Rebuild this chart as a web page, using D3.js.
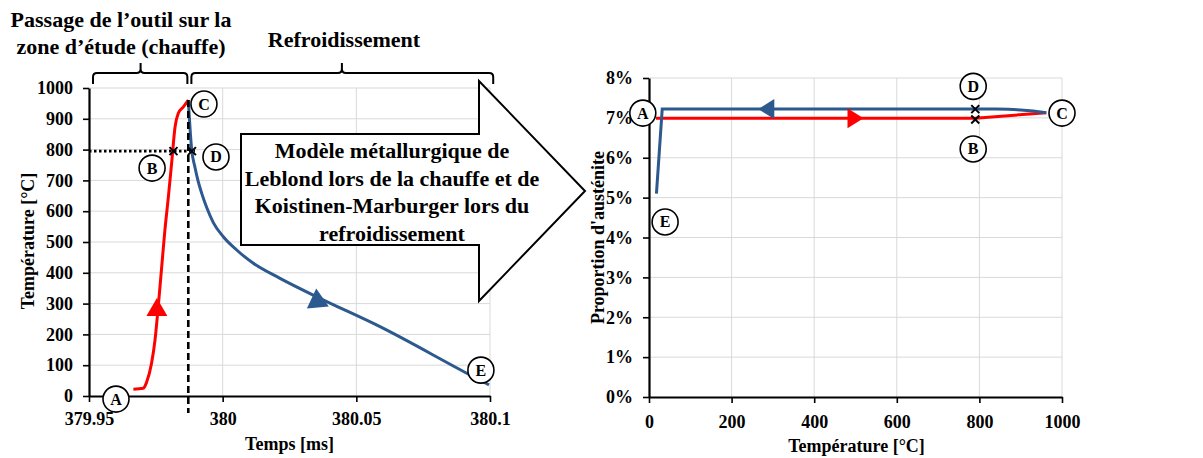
<!DOCTYPE html>
<html>
<head>
<meta charset="utf-8">
<script src="https://cdn.jsdelivr.net/npm/d3@7"></script>
<style>
  html, body { margin: 0; padding: 0; background: #fff; }
  svg { display: block; }
  text { font-family: "Liberation Serif", "Times New Roman", serif; font-weight: bold; fill: #000; }
</style>
</head>
<body>
<svg id="chart" width="1203" height="458"></svg>
<script>
// ---------- DATA ----------
const timeTicks = [379.95, 380, 380.05, 380.1];
const timeTickLabels = ["379.95", "380", "380.05", "380.1"];
const tempTicks = [0, 100, 200, 300, 400, 500, 600, 700, 800, 900, 1000];

// heating (red) : time [ms], temperature [°C]
const heatingTime = [379.9666, 379.9703, 379.9716, 379.9734, 379.9747, 379.9759, 379.9772, 379.9784, 379.9797, 379.9809, 379.9822, 379.9834, 379.9853, 379.98714];
const heatingTemp = [22, 25, 46, 106, 182, 290, 420, 539, 647, 755, 874, 918, 939, 961];

// cooling (blue) : time [ms], temperature [°C]
const coolingTime = [379.98714, 379.98842, 379.98965, 379.99089, 379.99216, 379.99403, 379.99650, 380.00024, 380.00525, 380.01146, 380.02145, 380.03641, 380.05885, 380.09129, 380.09963];
const coolingTemp = [961, 799, 742, 695, 658, 612, 563, 517, 474, 431, 382, 317, 225, 74, 36];

// austenite proportion vs temperature
const austTempTicks = [0, 200, 400, 600, 800, 1000];
const austPctTicks = [0, 1, 2, 3, 4, 5, 6, 7, 8];
const heatingAustTemp = [17, 790, 962];
const heatingAustPct = [6.99, 6.99, 7.13];
const coolingAustTemp = [962, 930, 900, 870, 840, 32, 18];
const coolingAustPct = [7.13, 7.17, 7.20, 7.215, 7.22, 7.22, 5.1];

// annotation points (left chart): label, time, temp
const leftLabels = ["A", "B", "C", "D", "E"];
const leftLabelTime = [379.9601, 379.9736, 379.9930, 379.9975, 380.0966];
const leftLabelTemp = [-10, 740, 948, 776, 84];
const criticalTemp = 795;          // dotted line level
const peakTime = 379.98714;        // dashed vertical line
const peakTemp = 961;
const markTimeB = 379.9816, markTimeD = 379.9885;
// annotation points (right chart)
const rightLabels = ["A", "B", "C", "D", "E"];
const rightLabelTemp = [-15, 785, 1000, 785, 39];
const rightLabelPct = [7.12, 6.22, 7.12, 7.79, 4.39];
const rightMarkTemp = [790, 790];
const rightMarkPct = [7.22, 6.96];

// ---------- LAYOUT ----------
const svg = d3.select("#chart");
const grid = "#d9d9d9";
const red = "#ff0000";
const blue = "#2d5a8e";

// Left chart scales
const x1 = d3.scaleLinear().domain([379.95, 380.1]).range([89, 490]);
const y1 = d3.scaleLinear().domain([0, 1000]).range([396, 88]);

// Right chart scales
const x2 = d3.scaleLinear().domain([0, 1000]).range([649, 1062]);
const y2 = d3.scaleLinear().domain([0, 8]).range([397, 78]);

// ----- Left grid -----
const gL = svg.append("g");
gL.selectAll("line.h").data(tempTicks.slice(1)).join("line")
  .attr("x1", x1(379.95)).attr("x2", x1(380.1))
  .attr("y1", d => y1(d)).attr("y2", d => y1(d))
  .attr("stroke", grid).attr("stroke-width", 1);
gL.selectAll("line.v").data(timeTicks.slice(1)).join("line")
  .attr("x1", d => x1(d)).attr("x2", d => x1(d))
  .attr("y1", y1(0)).attr("y2", y1(1000))
  .attr("stroke", grid).attr("stroke-width", 1);

// ----- Right grid -----
const gR = svg.append("g");
gR.selectAll("line.h").data(austPctTicks.slice(1)).join("line")
  .attr("x1", x2(0)).attr("x2", x2(1000))
  .attr("y1", d => y2(d)).attr("y2", d => y2(d))
  .attr("stroke", grid).attr("stroke-width", 1);
gR.selectAll("line.v").data(austTempTicks.slice(1)).join("line")
  .attr("x1", d => x2(d)).attr("x2", d => x2(d))
  .attr("y1", y2(0)).attr("y2", y2(8))
  .attr("stroke", grid).attr("stroke-width", 1);

// ----- Left axes -----
const axL = svg.append("g").attr("transform", `translate(${x1(379.95)},0)`)
  .call(d3.axisLeft(y1).tickValues(tempTicks).tickFormat(d3.format("d")).tickSize(6).tickSizeOuter(0).tickPadding(10));
const axB = svg.append("g").attr("transform", `translate(0,${y1(0)})`)
  .call(d3.axisBottom(x1).tickValues(timeTicks).tickFormat((d, i) => timeTickLabels[i]).tickSize(6).tickSizeOuter(0).tickPadding(10));
// ----- Right axes -----
const axR = svg.append("g").attr("transform", `translate(${x2(0)},0)`)
  .call(d3.axisLeft(y2).tickValues(austPctTicks).tickFormat(d => d + "%").tickSize(6).tickSizeOuter(0).tickPadding(10));
const axRB = svg.append("g").attr("transform", `translate(0,${y2(0)})`)
  .call(d3.axisBottom(x2).tickValues(austTempTicks).tickFormat(d3.format("d")).tickSize(6).tickSizeOuter(0).tickPadding(12));

[axL, axB, axR, axRB].forEach(a => {
  a.select(".domain").attr("stroke", "#000").attr("stroke-width", 2.2);
  a.selectAll(".tick line").attr("stroke", "#000").attr("stroke-width", 1.6);
  a.selectAll(".tick text").attr("font-size", 18).attr("font-family", "Liberation Serif").attr("font-weight", "bold").attr("fill", "#000");
});

// axis titles
svg.append("text").attr("x", x1(380.025)).attr("y", 450).attr("text-anchor", "middle").attr("font-size", 18).text("Temps [ms]");
svg.append("text").attr("transform", `translate(34,${(y1(0) + y1(1000)) / 2 - 1}) rotate(-90)`)
  .attr("text-anchor", "middle").attr("font-size", 18).text("Température [°C]");
svg.append("text").attr("x", x2(500) + 1).attr("y", 452).attr("text-anchor", "middle").attr("font-size", 18).text("Température [°C]");
svg.append("text").attr("transform", `translate(604,${(y2(0) + y2(8)) / 2})  rotate(-90)`)
  .attr("text-anchor", "middle").attr("font-size", 18).text("Proportion d'austénite");

// ----- Left curves -----
const lineL = d3.line().curve(d3.curveMonotoneX).x(d => x1(d[0])).y(d => y1(d[1]));
// dotted horizontal at critical temperature
svg.append("line").attr("x1", x1(379.95)).attr("x2", x1(markTimeD) + 3)
  .attr("y1", y1(criticalTemp)).attr("y2", y1(criticalTemp))
  .attr("stroke", "#000").attr("stroke-width", 2.6).attr("stroke-dasharray", "2.5,2.5");
svg.append("path").datum(heatingTime.map((t, i) => [t, heatingTemp[i]]))
  .attr("d", lineL).attr("fill", "none").attr("stroke", red).attr("stroke-width", 3);
svg.append("path").datum(coolingTime.map((t, i) => [t, coolingTemp[i]]))
  .attr("d", lineL).attr("fill", "none").attr("stroke", blue).attr("stroke-width", 3);
// dashed vertical at peak
svg.append("line").attr("x1", x1(peakTime)).attr("x2", x1(peakTime))
  .attr("y1", y1(peakTemp)).attr("y2", y1(0) + 17)
  .attr("stroke", "#000").attr("stroke-width", 2.6).attr("stroke-dasharray", "7,4");

// x markers
function xMark(cx, cy, s) {
  svg.append("path").attr("d", `M${cx - s},${cy - s}L${cx + s},${cy + s}M${cx - s},${cy + s}L${cx + s},${cy - s}`)
    .attr("stroke", "#000").attr("stroke-width", 2);
}
xMark(x1(markTimeB), y1(criticalTemp), 4);
xMark(x1(markTimeD), y1(criticalTemp), 4);

// direction triangles
function tri(cx, cy, w, h, angle, color) {
  svg.append("path").attr("d", `M${h / 2},0L${-h / 2},${-w / 2}L${-h / 2},${w / 2}Z`)
    .attr("transform", `translate(${cx},${cy}) rotate(${angle})`)
    .attr("fill", color);
}
tri(x1(379.9754), y1(289), 21, 18, -90, red);
tri(x1(380.0353), y1(318), 22, 19, -95, blue);

// ----- Big arrow shape -----
const ax0 = 241, ax1 = 479, ayT = 134, ayB = 245, ahT = 81, ahB = 301, atip = 585, amid = 191;
svg.append("path")
  .attr("d", `M${ax0},${ayT}L${ax1},${ayT}L${ax1},${ahT}L${atip},${amid}L${ax1},${ahB}L${ax1},${ayB}L${ax0},${ayB}Z`)
  .attr("fill", "#fff").attr("stroke", "#000").attr("stroke-width", 2);
const arrowLines = ["Modèle métallurgique de", "Leblond lors de la chauffe et de", "Koistinen-Marburger lors du", "refroidissement"];
svg.append("g").selectAll("text").data(arrowLines).join("text")
  .attr("x", 392).attr("y", (d, i) => 158 + i * 27.5)
  .attr("text-anchor", "middle").attr("font-size", 22).text(d => d);

// ----- Circle labels -----
function circLabel(cx, cy, t) {
  svg.append("circle").attr("cx", cx).attr("cy", cy).attr("r", 13)
    .attr("fill", "#fff").attr("stroke", "#000").attr("stroke-width", 1.6);
  svg.append("text").attr("x", cx).attr("y", cy + 5.5).attr("text-anchor", "middle")
    .attr("font-size", 16).text(t);
}
leftLabels.forEach((l, i) => circLabel(x1(leftLabelTime[i]), y1(leftLabelTemp[i]), l));

// ----- Right curves -----
const lineR = d3.line().x(d => x2(d[0])).y(d => y2(d[1]));
svg.append("path").datum(heatingAustTemp.map((t, i) => [t, heatingAustPct[i]]))
  .attr("d", lineR).attr("fill", "none").attr("stroke", red).attr("stroke-width", 3);
svg.append("path").datum(coolingAustTemp.map((t, i) => [t, coolingAustPct[i]]))
  .attr("d", lineR).attr("fill", "none").attr("stroke", blue).attr("stroke-width", 3);
tri(x2(284), y2(7.22), 20, 16, 180, blue);
tri(x2(500), y2(6.99), 20, 16, 0, red);
rightMarkTemp.forEach((t, i) => xMark(x2(t), y2(rightMarkPct[i]), 4));
rightLabels.forEach((l, i) => circLabel(x2(rightLabelTemp[i]), y2(rightLabelPct[i]), l));

// ----- Braces and headings -----
function brace(xa, xb, xm, yTop, yEnd, yTip) {
  const r = 4;
  svg.append("path").attr("d",
    `M${xa},${yEnd}L${xa},${yTop + r}Q${xa},${yTop} ${xa + r},${yTop}L${xm - r},${yTop}Q${xm},${yTop} ${xm},${yTop - r}L${xm},${yTip}` +
    `M${xm},${yTop - r}Q${xm},${yTop} ${xm + r},${yTop}L${xb - r},${yTop}Q${xb},${yTop} ${xb},${yTop + r}L${xb},${yEnd}`)
    .attr("fill", "none").attr("stroke", "#000").attr("stroke-width", 2);
}
brace(x1(379.9515), x1(379.9868), x1(379.9693), 73, 84, 63);
brace(x1(379.9883), x1(380.1012), x1(380.0446), 73, 84, 63);

svg.append("text").attr("x", 121).attr("y", 27).attr("text-anchor", "middle").attr("font-size", 22).text("Passage de l’outil sur la");
svg.append("text").attr("x", 121).attr("y", 54).attr("text-anchor", "middle").attr("font-size", 22).text("zone d’étude (chauffe)");
svg.append("text").attr("x", 344).attr("y", 47).attr("text-anchor", "middle").attr("font-size", 22).text("Refroidissement");
</script>
</body>
</html>
